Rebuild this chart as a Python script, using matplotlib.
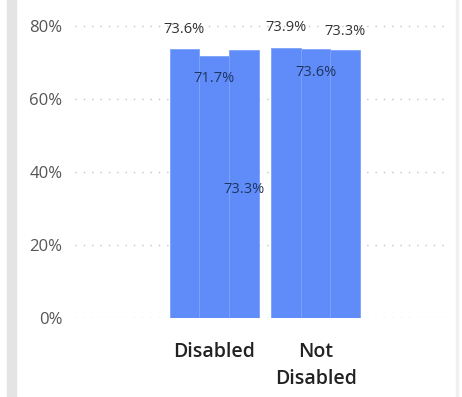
import matplotlib
matplotlib.use("Agg")
import matplotlib.pyplot as plt
from matplotlib.patches import Rectangle

# Share of respondents, three sub-bars per group
groups = ["Disabled", "Not\nDisabled"]
values = [
    [73.6, 71.7, 73.3],
    [73.9, 73.6, 73.3],
]
# where each value label sits relative to the bar top (points)
label_offsets = [
    [14, -16, -100],
    [15, -17, 14],
]
yticks = [0, 20, 40, 60, 80]

W, H = 462, 397
fig = plt.figure(figsize=(W / 100, H / 100), dpi=100)
fig.patch.set_facecolor("white")
plt.rcParams["font.family"] = ["Open Sans", "DejaVu Sans"]

# side panel strip and frame
fig.add_artist(Rectangle((7 / W, 0), 9 / W, 1, transform=fig.transFigure,
                         color="#e4e4e4", zorder=0))
fig.add_artist(Rectangle((456 / W, 0), 1.5 / W, 1, transform=fig.transFigure,
                         color="#f0f0f0", zorder=0))

left_px, right_px, bottom_px, top_px = 75, 450, 318, 8
ax = fig.add_axes([left_px / W, 1 - bottom_px / H,
                   (right_px - left_px) / W, (bottom_px - top_px) / H])
px_per_unit = 3.65
ax.set_ylim(0, (bottom_px - top_px) / px_per_unit)
bar_px = 29.6
first_center = 184.5
ax.set_xlim((left_px - first_center) / bar_px, (right_px - first_center) / bar_px)

bar_color = "#5f8cf8"
group_gap = 0.43
centers = []
for g, vals in enumerate(values):
    base = g * (len(vals) + group_gap)
    xs = [base + i for i in range(len(vals))]
    centers.append(base + (len(vals) - 1) / 2)
    ax.bar(xs, vals, width=1.0, color=bar_color, edgecolor="#7ea2fa",
           linewidth=0.6, zorder=2)
    for x, v, off in zip(xs, vals, label_offsets[g]):
        inside = off < 0
        ax.annotate(f"{v:.1f}%", (x, v), xytext=(0, off),
                    textcoords="offset points", ha="center", va="center",
                    fontsize=10.5, color="#1f3560" if inside else "#333333",
                    zorder=3)

ax.set_yticks(yticks)
ax.set_yticklabels([f"{t}%" for t in yticks])
ax.yaxis.grid(True, linestyle=(0, (1, 5)), color="#c4c4c4", linewidth=1.0)
ax.set_axisbelow(True)
ax.set_xticks(centers)
ax.set_xticklabels(groups, fontsize=14, color="#222222", linespacing=1.5,
                   fontweight="semibold")
ax.tick_params(axis="x", length=0, pad=17)
ax.tick_params(axis="y", length=0, pad=9, labelsize=12, labelcolor="#555555")
for s in ax.spines.values():
    s.set_visible(False)
ax.set_facecolor("none")

fig.savefig("out.png", dpi=100)
